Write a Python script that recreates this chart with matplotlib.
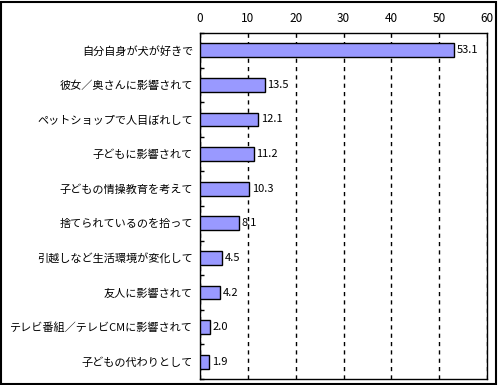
import numpy as np
import matplotlib.pyplot as plt
from matplotlib.patches import Rectangle

plt.rcParams['font.family'] = ['Noto Sans CJK JP', 'DejaVu Sans']

# datos
categorias = ['自分自身が犬が好きで', '彼女／奥さんに影響されて', 'ペットショップで人目ぼれして',
              '子どもに影響されて', '子どもの情操教育を考えて', '捨てられているのを拾って',
              '引越しなど生活環境が変化して', '友人に影響されて',
              'テレビ番組／テレビCMに影響されて', '子どもの代わりとして']
valores = [53.1, 13.5, 12.1, 11.2, 10.3, 8.1, 4.5, 4.2, 2.0, 1.9]
xticks = [0, 10, 20, 30, 40, 50, 60]

fig = plt.figure(figsize=(5.0, 3.85), dpi=100)
ax = fig.add_axes([200/500, 1-379/385, 287/500, 346/385])

y = np.arange(len(categorias))
ax.barh(y, valores, height=0.4, color='#9999FF', edgecolor='black', linewidth=1, zorder=3)
for yi, v in zip(y, valores):
    ax.text(v + 0.6, yi, '{:.1f}'.format(v), va='center', ha='left', fontsize=8)

ax.set_xlim(0, 60)
ax.set_ylim(len(categorias)-0.5, -0.5)
ax.set_xticks(xticks)
ax.xaxis.tick_top()
ax.tick_params(axis='x', length=0, labelsize=8.5, pad=6)
ax.set_yticks(y)
ax.set_yticklabels(categorias, fontsize=8)
ax.tick_params(axis='y', length=0, pad=5)
ax.set_yticks(np.arange(len(categorias)+1) - 0.5, minor=True)
ax.tick_params(axis='y', which='minor', direction='in', length=3, width=1)
ax.grid(axis='x', linestyle=(0, (3, 3)), color='black', linewidth=1, zorder=0)
for s in ax.spines.values():
    s.set_linewidth(1)

# marco exterior
fig.patches.append(Rectangle((0.002, 0.003), 0.99, 0.992, transform=fig.transFigure,
                             fill=False, edgecolor='black', linewidth=1.5))

fig.savefig('out.png', dpi=100)
